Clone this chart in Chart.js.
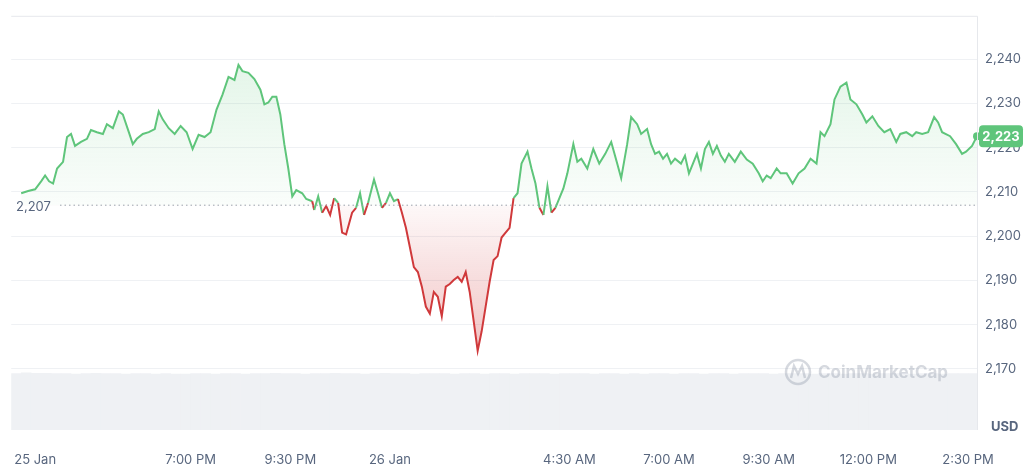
<!DOCTYPE html>
<html><head><meta charset="utf-8">
<script src="https://cdn.jsdelivr.net/npm/chart.js@4"></script>
<style>html,body{margin:0;background:#fff}#w{width:1024px;height:471px}</style>
</head><body><div id="w"><canvas id="c"></canvas></div>
<script>
// time in minutes since 25 Jan 14:18, price in USD
const pricePoints = [
[27,2209.7],[37.5,2210.2],[48,2210.6],[57,2212.4],[63,2213.7],[69,2212.4],[75,2211.9],[81,2215.3],[90,2216.8],[96,2222.4],
[102,2223.1],[108,2220.4],[117,2221.3],[126,2222.0],[132,2224.0],[141,2223.5],[150,2223.1],[156,2225.3],[165,2224.4],[174,2228.2],
[180,2227.5],[189,2223.5],[195,2220.8],[201,2222.0],[210,2223.1],[219,2223.5],[228,2224.2],[234,2228.2],[240,2226.4],[249,2224.4],
[258,2223.1],[267,2224.9],[276,2223.5],[285,2219.7],[294,2222.9],[303,2222.4],[312,2223.5],[321,2228.6],[330,2232.0],[339,2236.0],
[348,2235.3],[354,2238.7],[360,2237.3],[369,2236.9],[378,2235.5],[387,2233.1],[393,2229.8],[399,2230.2],[405,2231.5],[411,2231.5],
[417,2227.5],[423,2220.8],[429,2215.3],[435,2209.0],[441,2210.4],[450,2209.7],[456,2208.4],[465,2207.9],[468,2205.9],[474,2209.0],
[480,2205.3],[486,2206.8],[492,2204.8],[498,2208.6],[504,2207.5],[510,2200.8],[516,2200.4],[525,2205.3],[531,2206.4],[537,2209.7],
[543,2204.8],[549,2207.5],[558,2212.8],[564,2209.7],[570,2206.4],[576,2207.5],[582,2209.7],[588,2207.9],[594,2208.4],[600,2205.3],
[606,2201.9],[612,2197.5],[618,2193.0],[624,2191.9],[630,2188.6],[636,2184.1],[642,2182.5],[648,2187.4],[654,2186.3],[660,2181.9],
[666,2188.6],[672,2189.2],[678,2190.1],[684,2190.8],[690,2189.7],[696,2191.9],[702,2187.4],[708,2180.8],[714,2174.1],[720,2178.5],
[726,2184.1],[732,2189.7],[738,2194.6],[744,2195.5],[750,2199.7],[756,2200.8],[762,2201.9],[768,2208.6],[774,2209.7],[780,2216.4],
[789,2219.1],[795,2215.3],[801,2211.9],[807,2206.4],[813,2204.8],[819,2211.3],[825,2205.3],[831,2206.4],[837,2208.6],[843,2210.8],
[849,2214.2],[858,2220.8],[864,2216.8],[870,2217.5],[879,2215.3],[888,2219.7],[897,2216.4],[906,2218.6],[915,2221.3],[924,2216.4],
[930,2213.1],[939,2220.8],[945,2226.9],[954,2225.3],[960,2223.1],[969,2224.2],[975,2220.8],[981,2218.6],[987,2219.1],[993,2217.5],
[999,2218.6],[1005,2216.4],[1011,2217.5],[1020,2216.4],[1026,2218.2],[1032,2214.2],[1038,2216.4],[1044,2218.6],[1050,2215.3],[1056,2219.7],
[1062,2221.3],[1068,2218.6],[1074,2220.4],[1080,2218.2],[1086,2216.8],[1092,2218.6],[1101,2216.8],[1110,2219.1],[1119,2217.3],[1128,2216.4],
[1137,2214.2],[1143,2212.4],[1149,2213.7],[1155,2213.1],[1164,2215.3],[1170,2214.2],[1179,2214.2],[1188,2211.9],[1197,2214.2],[1206,2215.3],
[1215,2217.5],[1224,2216.4],[1230,2223.5],[1236,2222.6],[1245,2225.3],[1251,2230.9],[1260,2233.8],[1269,2234.7],[1275,2230.9],[1284,2229.8],
[1293,2227.5],[1299,2225.7],[1308,2227.1],[1317,2224.9],[1326,2223.5],[1335,2224.2],[1344,2221.3],[1350,2223.1],[1359,2223.5],[1368,2222.6],
[1374,2223.5],[1383,2223.1],[1392,2223.5],[1401,2226.9],[1407,2225.7],[1413,2223.5],[1425,2222.6],[1434,2220.8],[1443,2218.6],[1449,2219.1],
[1458,2220.4],[1465.5,2222.6]
];
const baseline = 2207;
const lastPriceLabel = "2,223";
const yTicks = [2170,2180,2190,2200,2210,2220,2230,2240];
const xTickValues = [48,282,432,582,852,1002,1152,1302,1452];
const xTickLabels = ["25 Jan","7:00 PM","9:30 PM","26 Jan","4:30 AM","7:00 AM","9:30 AM","12:00 PM","2:30 PM"];
const volumeValues = [13.6,13.8,13.7,13.7,13.6,13.6,13.5,13.6,13.7,13.6,13.6,13.5,13.6,13.6,13.5,13.6,13.5,13.5,13.6,13.6,13.5,13.6,13.6,13.5,13.6,13.6,13.7,13.6,13.6,13.5,13.6,13.6,13.7,13.6,13.6,13.5,13.6,13.7,13.6,13.6,13.5,13.6,13.6,13.6,13.5,13.6,13.6,13.5,13.6,13.6,13.5,13.6,13.6,13.6,13.5,13.6,13.6,13.6,13.5,13.6,13.6,13.5,13.6,13.5,13.6,13.6,13.5,13.6,13.6,13.5,13.6,13.6,13.5,13.6,13.6,13.6,13.5,13.6,13.6,13.6,13.5,13.6,13.6,13.5,13.6,13.6,13.5,13.6,13.6,13.6,13.5,13.6,13.6,13.5,13.6,13.6,13.6];
const volumeTimes = volumeValues.map((v,i)=>19.5 + i*15);

const GREEN='#5fc57b', RED='#d0393b';
const cv=document.getElementById('c');
const gctx=cv.getContext('2d');
const gUp=gctx.createLinearGradient(0,10,0,204);
gUp.addColorStop(0,'rgba(95,197,123,0.22)'); gUp.addColorStop(1,'rgba(95,197,123,0.03)');
const gDn=gctx.createLinearGradient(0,204,0,350);
gDn.addColorStop(0,'rgba(208,57,59,0.03)'); gDn.addColorStop(1,'rgba(208,57,59,0.3)');

const overlay = {
  id:'overlay',
  afterDatasetsDraw(chart){
    const ctx=chart.ctx, x=chart.scales.x, y=chart.scales.y, a=chart.chartArea;
    const by=y.getPixelForValue(baseline);
    ctx.save();
    ctx.strokeStyle='#9aa1ab'; ctx.setLineDash([1.5,3]); ctx.lineWidth=1;
    ctx.beginPath(); ctx.moveTo(60,by); ctx.lineTo(a.right,by); ctx.stroke();
    ctx.setLineDash([]);
    ctx.font='13px Inter, "Noto Sans", sans-serif'; ctx.fillStyle='#58667e'; ctx.textBaseline='middle';
    ctx.fillText('2,207',16,by+2);
    const last=pricePoints[pricePoints.length-1];
    const lx=x.getPixelForValue(last[0]), ly=y.getPixelForValue(last[1]);
    ctx.fillStyle=GREEN; ctx.beginPath(); ctx.arc(lx,ly,4,0,Math.PI*2); ctx.fill();
    ctx.beginPath(); ctx.roundRect(979,ly-11,44,22,4); ctx.fill();
    ctx.fillStyle='#fff'; ctx.font='bold 13px Inter, "Noto Sans", sans-serif'; ctx.textAlign='center';
    ctx.fillText(lastPriceLabel,1001,ly+1);
    ctx.globalAlpha=0.35; ctx.strokeStyle='#8a93a3'; ctx.lineWidth=2.5;
    ctx.beginPath(); ctx.arc(798,372,12,0,Math.PI*2); ctx.stroke();
    ctx.beginPath(); ctx.moveTo(791,378); ctx.lineTo(794,366); ctx.lineTo(798,374); ctx.lineTo(802,366); ctx.lineTo(805,378); ctx.stroke();
    ctx.fillStyle='#8a93a3'; ctx.textAlign='left'; ctx.font='bold 17px Inter, "Noto Sans", sans-serif';
    ctx.fillText('CoinMarketCap',818,373);
    ctx.globalAlpha=1;
    ctx.fillStyle='#58667e'; ctx.font='bold 13px Inter, "Noto Sans", sans-serif';
    ctx.fillText('USD',991,427);
    ctx.strokeStyle='#e6e8ec'; ctx.lineWidth=1;
    ctx.beginPath(); ctx.moveTo(a.left,a.top+0.5); ctx.lineTo(a.right+0.5,a.top+0.5); ctx.lineTo(a.right+0.5,a.bottom); ctx.stroke();
    ctx.restore();
  }
};

new Chart(cv,{
  data:{datasets:[
    {type:'bar', data:volumeTimes.map((t,i)=>({x:t,y:volumeValues[i]})), yAxisID:'y2', backgroundColor:'#eff1f4',
     barPercentage:1, categoryPercentage:1, order:2},
    {type:'line', data:pricePoints.map(p=>({x:p[0],y:p[1]})), yAxisID:'y', borderWidth:2, pointRadius:0, tension:0,
     borderColor:GREEN, order:1, fill:{target:{value:baseline}, above:gUp, below:gDn},
     segment:{borderColor:c=>((c.p0.parsed.y+c.p1.parsed.y)/2>=baseline?GREEN:RED)}}
  ]},
  options:{responsive:true, maintainAspectRatio:false, animation:false,
    layout:{padding:{top:10,left:8,right:0,bottom:0}},
    plugins:{legend:{display:false}, tooltip:{enabled:false}, filler:{propagate:false}},
    scales:{
      x:{type:'linear', offset:false, min:12, max:1465.5, grid:{display:false}, border:{display:false},
        afterBuildTicks:s=>{s.ticks=xTickValues.map(v=>({value:v}));},
        afterFit:s=>{s.height=41;},
        ticks:{autoSkip:false, maxRotation:0, padding:14, color:'#58667e', font:{size:13, family:'Inter, "Noto Sans", sans-serif'},
          callback:(v)=>{const i=xTickValues.indexOf(v);return i>=0?xTickLabels[i]:'';}}},
      y:{position:'right', min:2156.2, max:2249.8,
        afterBuildTicks:s=>{s.ticks=yTicks.map(v=>({value:v}));},
        afterFit:s=>{s.width=47;},
        grid:{color:'#eff1f4', drawTicks:false}, border:{display:false},
        ticks:{padding:8, color:'#58667e', font:{size:13, family:'Inter, "Noto Sans", sans-serif'},
          callback:v=>v.toLocaleString('en-US')}},
      y2:{display:false, min:0, max:100}
    }
  },
  plugins:[overlay]
});
</script></body></html>
